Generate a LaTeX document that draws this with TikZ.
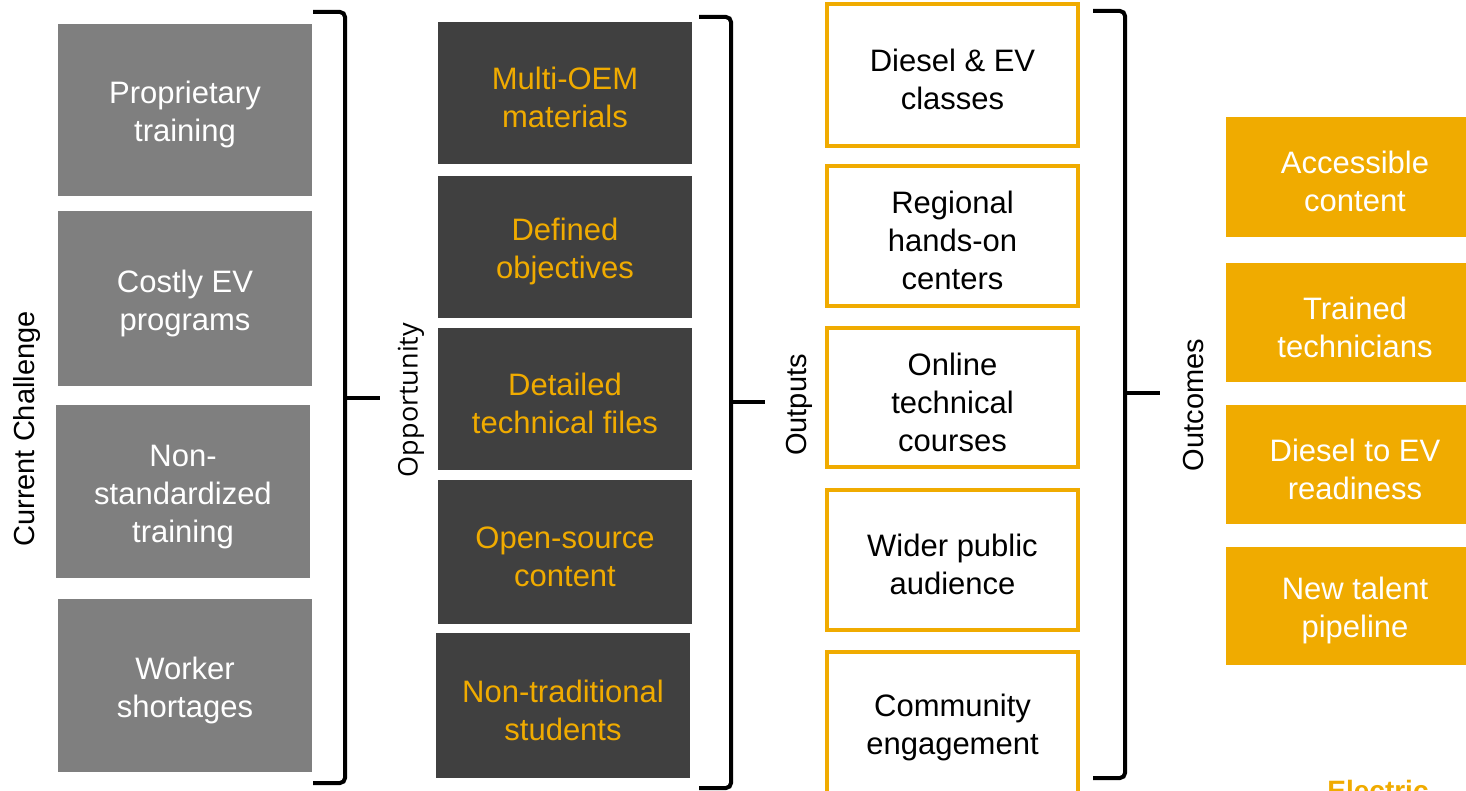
\documentclass[tikz,border=0pt]{standalone}
\usepackage{fontspec}
\setmainfont{Liberation Sans}
\newfontfamily\oppfont{Open Sans}
\usetikzlibrary{positioning}
\definecolor{ebgold}{HTML}{F0AB00}
\definecolor{ebgray}{HTML}{7F7F7F}
\definecolor{ebdark}{HTML}{404040}
\newcommand{\boxfont}{\fontsize{31}{38}\selectfont}
\newcommand{\sidefont}{\fontsize{29}{34}\selectfont}
\newcommand{\ds}{\rule{0pt}{32pt}}
\tikzset{chal/.style={fill=ebgray,text=white,minimum width=254pt,inner sep=0pt,
  align=center,font=\boxfont},
  opp/.style={fill=ebdark,text=ebgold,minimum width=254pt,
  inner sep=0pt,align=center,font=\boxfont},
  outp/.style={draw=ebgold,line width=4pt,fill=white,minimum width=251pt,inner sep=0pt,
  align=center,font=\boxfont},
  outc/.style={fill=ebgold,text=white,minimum width=258pt,inner sep=0pt,align=center,
  font=\boxfont},
  sidelabel/.style={rotate=90,font=\sidefont,inner sep=0pt},
  bracketline/.style={line width=4pt,rounded corners=5pt}}

\begin{document}
\begin{tikzpicture}[x=1pt,y=-1pt]
 \useasboundingbox (0,0) rectangle (1466,791);
 % current challenge
 \node[chal,minimum height=172pt] (ch1) at (185,110) {\ds Proprietary\\training};
 \node[chal,minimum height=175pt] (ch2) at (185,298.5) {\ds Costly EV\\programs};
 \node[chal,minimum height=173pt] (ch3) at (183,491.5) {\ds Non-\\standardized\\training};
 \node[chal,minimum height=173pt] (ch4) at (185,685.5) {\ds Worker\\shortages};
 \node[sidelabel] (chlab) at (27,429) {Current Challenge};
 \draw[bracketline] (313,12) -- (345,12) -- (345,783) -- (313,783);
 \draw[bracketline] (345,398) -- (380,398);
 % opportunity
 \node[opp,minimum height=142pt] (op1) at (565,93) {\ds Multi-OEM\\materials};
 \node[opp,minimum height=142pt] (op2) at (565,247) {\ds Defined\\objectives};
 \node[opp,minimum height=142pt] (op3) at (565,399) {\ds Detailed\\technical files};
 \node[opp,minimum height=144pt] (op4) at (565,552) {\ds Open-source\\content};
 \node[opp,minimum height=145pt] (op5) at (563,705.5) {\ds Non-traditional\\students};
 \node[sidelabel,font=\oppfont\fontsize{27}{32}\selectfont] (oplab) at (411,400) {Opportunity};
 \draw[bracketline] (699,17) -- (731,17) -- (731,788) -- (699,788);
 \draw[bracketline] (731,402) -- (765,402);
 % outputs
 \node[outp,minimum height=142pt] (out1) at (952.5,75) {\ds Diesel \& EV\\classes};
 \node[outp,minimum height=140pt] (out2) at (952.5,236) {\ds Regional\\hands-on\\centers};
 \node[outp,minimum height=139pt] (out3) at (952.5,397.5) {\ds Online\\technical\\courses};
 \node[outp,minimum height=140pt] (out4) at (952.5,560) {\ds Wider public\\audience};
 \node[outp,minimum height=141pt] (out5) at (952.5,722.5) {\ds Community\\engagement};
 \node[sidelabel] (outlab) at (799,405) {Outputs};
 \draw[bracketline] (1093,11) -- (1125,11) -- (1125,778) -- (1093,778);
 \draw[bracketline] (1125,393) -- (1160,393);
 % outcomes
 \node[sidelabel] (oclab) at (1193,405) {Outcomes};
 \node[outc,minimum height=120pt] (oc1) at (1355,177) {\ds Accessible\\content};
 \node[outc,minimum height=119pt] (oc2) at (1355,322.5) {\ds Trained\\technicians};
 \node[outc,minimum height=119pt] (oc3) at (1355,464.5) {\ds Diesel to EV\\readiness};
 \node[outc,minimum height=118pt] (oc4) at (1355,606) {\ds New talent\\pipeline};
 \node[anchor=base,text=ebgold,font=\bfseries\fontsize{28}{32}\selectfont,inner sep=0pt]
  (brand) at (1378,800) {Electric};
\end{tikzpicture}
\end{document}
